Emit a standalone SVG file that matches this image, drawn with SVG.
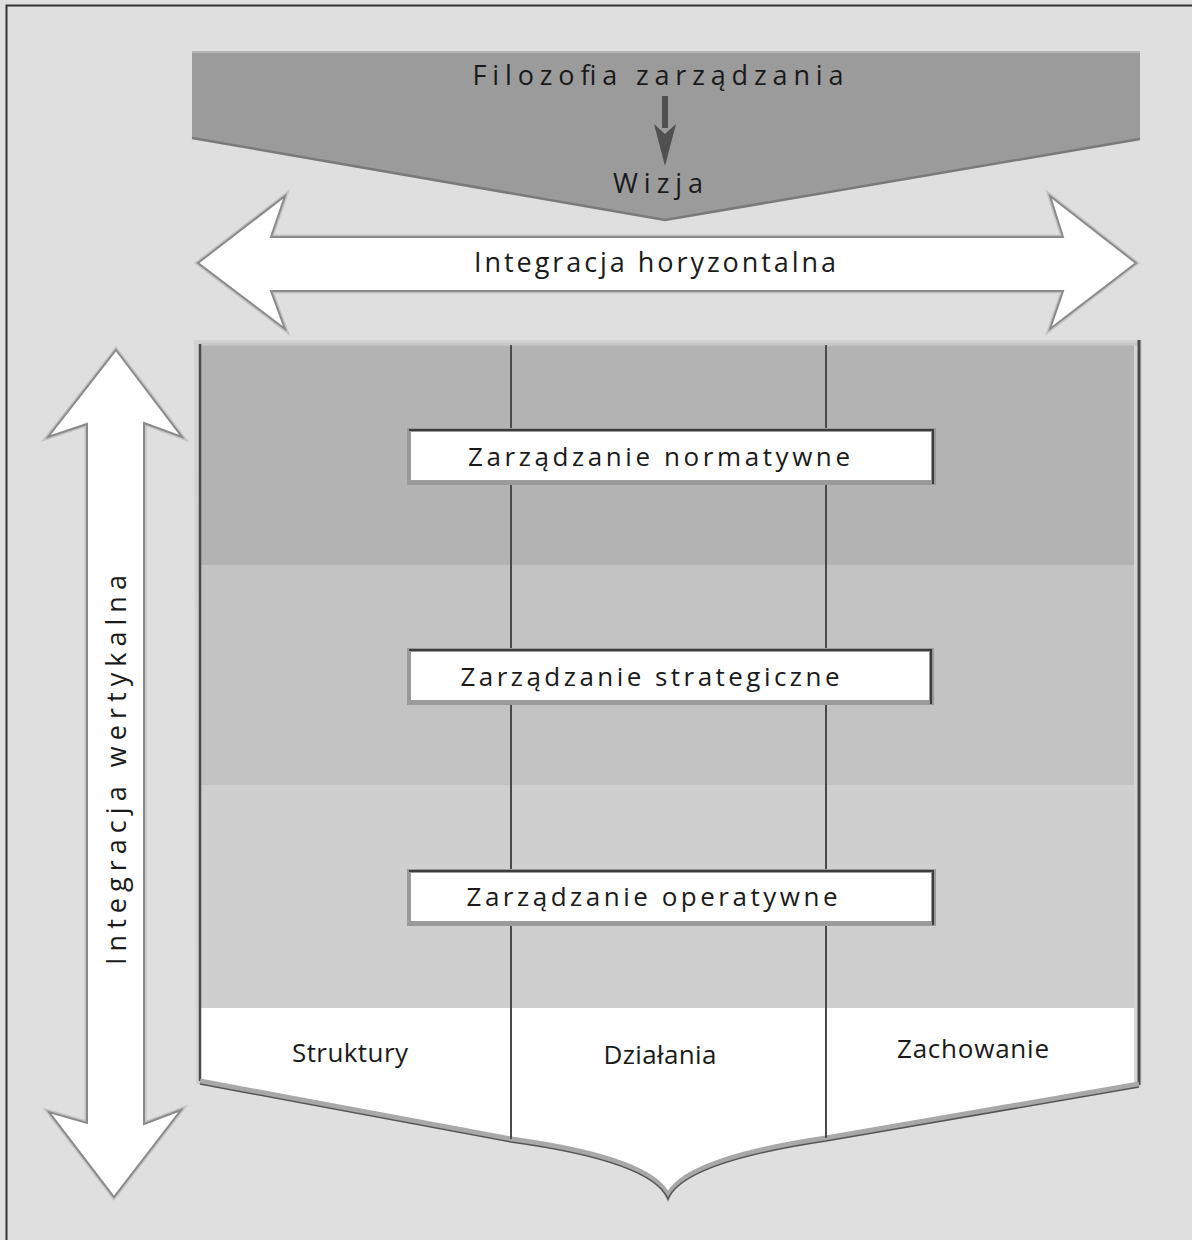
<svg xmlns="http://www.w3.org/2000/svg" width="1192" height="1240" viewBox="0 0 1192 1240">
  <style>
    .lbl { font-family: "Open Sans", "Liberation Sans", sans-serif; fill: #1a1a1a; text-anchor: middle; }
    .big { font-size: 27px; }
    .mid { font-size: 26px; }
    .bigarrow { fill: #ffffff; stroke: #8a8a8a; stroke-width: 2; stroke-linejoin: miter; }
    .halo { fill: none; stroke: #c4c4c4; stroke-width: 5; stroke-linejoin: miter; }
    .divider { stroke: #4a4a4a; stroke-width: 2; }
    .boxouter { fill: #9a9a9a; }
    .boxinner { fill: #ffffff; }
    .boxedge { stroke: #3c3c3c; stroke-width: 2; fill: none; }
  </style>
  <defs>
    <clipPath id="panelClip">
      <path d="M200,344 H1138 V1084 L826,1138 C745,1150 680,1168 668,1196 C656,1168 591,1150 511,1139 L200,1081 Z"/>
    </clipPath>
  </defs>

  <!-- page background and frame -->
  <rect x="0" y="0" width="1192" height="1240" fill="#dfdfdf"/>
  <rect x="6.5" y="5.5" width="1200" height="1250" fill="none" stroke="#333" stroke-width="2"/>

  <!-- top banner: management philosophy to vision -->
  <g id="banner">
    <polygon points="192,52 1140,52 1140,139 665,220 192,138" fill="#9b9b9b"/>
    <polyline points="192,52 1140,52" fill="none" stroke="#b5b5b5" stroke-width="2"/>
    <polyline points="192,138 665,220 1140,139" fill="none" stroke="#7a7a7a" stroke-width="2.5"/>
    <rect x="662" y="96" width="6" height="32" fill="#505050"/>
    <polygon points="654,124 665,134 676,124 665,166" fill="#505050"/>
    <text class="lbl big" x="658" y="85" textLength="371">Filozofia zarządzania</text>
    <text class="lbl big" x="658" y="193" textLength="90">Wizja</text>
  </g>

  <!-- horizontal integration arrow -->
  <g id="horizontal-integration">
    <polygon class="halo" points="198,263 285,196 271,237 1063,237 1050,196 1136,263 1050,329 1063,291 271,291 285,329"/>
    <polygon class="bigarrow" points="198,263 285,196 271,237 1063,237 1050,196 1136,263 1050,329 1063,291 271,291 285,329"/>
    <text class="lbl big" x="655" y="272" textLength="362">Integracja horyzontalna</text>
  </g>

  <!-- vertical integration arrow -->
  <g id="vertical-integration">
    <polygon class="halo" points="116,350 182,437 144,423 144,1124 181,1110 114,1197 49,1112 87,1123 87,424 48,437"/>
    <polygon class="bigarrow" points="116,350 182,437 144,423 144,1124 181,1110 114,1197 49,1112 87,1123 87,424 48,437"/>
    <text class="lbl big" transform="translate(126,770) rotate(-90)" x="0" y="0" textLength="390">Integracja wertykalna</text>
  </g>

  <!-- main panel with three management levels -->
  <g id="panel">
    <path d="M194,340 H1142 V1086 L826,1141 C745,1153 680,1171 668,1200 C656,1171 591,1153 511,1142 L196,1084 Z" fill="#d2d2d2"/>
    <g clip-path="url(#panelClip)">
      <rect x="200" y="344" width="938" height="221" fill="#b3b3b3"/>
      <rect x="200" y="565" width="938" height="220" fill="#c3c3c3"/>
      <rect x="200" y="785" width="938" height="223" fill="#cfcfcf"/>
      <rect x="200" y="1008" width="938" height="200" fill="#ffffff"/>
      <rect x="1134" y="344" width="6" height="740" fill="#d6d6d6"/>
    </g>
    <line x1="200" y1="344" x2="1138" y2="344" stroke="#c9c9c9" stroke-width="3"/>
    <line x1="200" y1="344" x2="200" y2="1081" stroke="#4a4a4a" stroke-width="2.5"/>
    <line x1="1139" y1="340" x2="1139" y2="1085" stroke="#4a4a4a" stroke-width="3"/>
    <path d="M1139,1084 L826,1138 C745,1150 680,1168 668,1196 C656,1168 591,1150 511,1139 L200,1081" fill="none" stroke="#a8a8a8" stroke-width="5"/>
    <path d="M1139,1087 L826,1141 C745,1153 680,1171 668,1199 C656,1171 591,1153 511,1142 L200,1084" fill="none" stroke="#555" stroke-width="1.5"/>
  </g>

  <!-- column dividers -->
  <g id="connectors">
    <line class="divider" x1="511" y1="345" x2="511" y2="1139"/>
    <line class="divider" x1="826" y1="345" x2="826" y2="1138"/>
  </g>

  <g id="normative">
    <rect class="boxouter" x="407" y="428" width="529" height="57"/>
    <rect class="boxinner" x="411" y="432" width="520" height="48"/>
    <polyline class="boxedge" points="409,430 933,430 933,484"/>
    <text class="lbl mid" x="659" y="466" textLength="382">Zarządzanie normatywne</text>
  </g>

  <g id="strategic">
    <rect class="boxouter" x="407" y="648" width="527" height="57"/>
    <rect class="boxinner" x="411" y="652" width="518" height="48"/>
    <polyline class="boxedge" points="409,650 931,650 931,704"/>
    <text class="lbl mid" x="650" y="686" textLength="379">Zarządzanie strategiczne</text>
  </g>

  <g id="operative">
    <rect class="boxouter" x="407" y="869" width="529" height="57"/>
    <rect class="boxinner" x="411" y="873" width="520" height="48"/>
    <polyline class="boxedge" points="409,871 933,871 933,925"/>
    <text class="lbl mid" x="652" y="906" textLength="371">Zarządzanie operatywne</text>
  </g>

  <g id="structures">
    <text class="lbl mid" x="350" y="1062" textLength="116">Struktury</text>
  </g>
  <g id="activities">
    <text class="lbl mid" x="660" y="1064" textLength="113">Działania</text>
  </g>
  <g id="behaviour">
    <text class="lbl mid" x="973" y="1058" textLength="152">Zachowanie</text>
  </g>
</svg>
